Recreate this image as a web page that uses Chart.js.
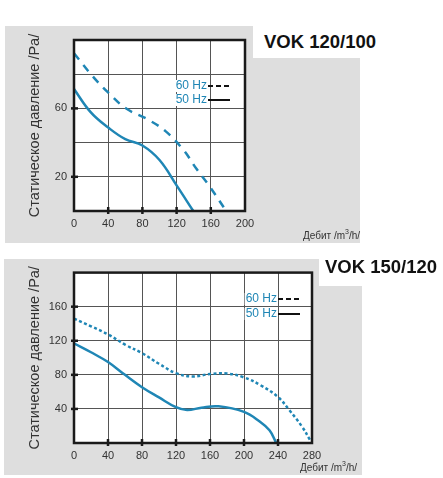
<!DOCTYPE html>
<html>
<head>
<meta charset="utf-8">
<script src="https://cdn.jsdelivr.net/npm/chart.js@4.4.1/dist/chart.umd.min.js"></script>
<style>
  html, body { margin:0; padding:0; background:#fff; width:443px; height:478px; overflow:hidden; }
  body { position:relative; font-family:'Liberation Sans', Arial, sans-serif; }
  .panel { position:absolute; background:#dedede; }
  .tbox { position:absolute; background:#fff; }
  .title { position:absolute; font-weight:bold; font-size:18.5px; color:#111; white-space:nowrap; }
  .xt { position:absolute; font-size:10px; color:#333; white-space:nowrap; }
  .xt sup { font-size:7px; vertical-align:5px; line-height:0; }
  canvas { position:absolute; }
</style>
</head>
<body>
<div class="panel" style="left:5px;top:26px;width:355px;height:217px;"></div>
<div class="tbox" style="left:253px;top:26px;width:132px;height:32px;"></div>
<div class="title" style="left:264px;top:31px;">VOK 120/100</div>
<canvas id="c1" width="355" height="217" style="left:5px;top:26px;width:355px;height:217px;"></canvas>
<div class="xt" style="left:303px;top:230px;">Дебит /m<sup>3</sup>/h/</div>

<div class="panel" style="left:4px;top:259px;width:358px;height:216px;"></div>
<div class="tbox" style="left:319px;top:259px;width:124px;height:27px;"></div>
<div class="title" style="left:325px;top:256px;">VOK 150/120</div>
<canvas id="c2" width="358" height="216" style="left:4px;top:259px;width:358px;height:216px;"></canvas>
<div class="xt" style="left:300px;top:462px;">Дебит /m<sup>3</sup>/h/</div>

<script>
// ---- Chart 1: VOK 120/100 ----
const top_x60 = [0, 22, 41, 61, 85, 107, 128, 143, 159, 178];
const top_y60 = [92.2, 78.7, 68.8, 59.9, 53.9, 46.7, 35.7, 24.8, 14.1, 0];
const top_x50 = [0, 20, 40, 60, 80, 100, 120, 139.5];
const top_y50 = [71.3, 57.5, 48.8, 42, 38.3, 29.8, 15, 0];
const top_yLabels = [20, 60];
const top_xTickMarks = [40, 80, 120, 160];

// ---- Chart 2: VOK 150/120 ----
const bot_x60 = [0, 20, 40, 60, 80, 100, 120, 140, 160, 180, 200, 220, 240, 253, 268, 278];
const bot_y60 = [146, 137, 127.5, 115.5, 105.5, 93, 82, 78, 81, 81.5, 77, 67.5, 54, 39, 19.6, 3];
const bot_x50 = [0, 20, 40, 60, 80, 100, 120, 133, 150, 170, 200, 218, 230, 238];
const bot_y50 = [117, 106.5, 95, 80, 65.5, 53.5, 42, 38.6, 41.5, 43, 36.5, 25.5, 14.9, 0];
const bot_yLabels = [40, 80, 120, 160];
const bot_xTickMarks = [40, 80, 120, 160, 200, 240];

const seriesLabels = ['60 Hz', '50 Hz'];
const yTitle = 'Статическое давление /Pa/';

const BLUE = '#1f86b5';
Chart.defaults.font.family = "'Liberation Sans', Arial, sans-serif";

const toPts = (xs, ys) => xs.map((x, i) => ({x, y: ys[i]}));

const frame = {
  id: 'frame',
  beforeDraw(chart) {
    const {ctx, chartArea: a} = chart;
    ctx.save();
    ctx.fillStyle = '#fff';
    ctx.fillRect(a.left, a.top, a.width, a.height);
    ctx.restore();
  },
  afterDraw(chart, args, o) {
    const {ctx, chartArea: a, scales: {x, y}} = chart;
    ctx.save();
    ctx.strokeStyle = '#1a1a1a';
    ctx.lineWidth = 2.5;
    ctx.strokeRect(a.left, a.top, a.width, a.height);
    o.xTicks.forEach(v => {
      const px = x.getPixelForValue(v);
      ctx.beginPath(); ctx.moveTo(px, a.bottom - 4); ctx.lineTo(px, a.bottom + 3); ctx.stroke();
    });
    o.yTicks.forEach(v => {
      const py = y.getPixelForValue(v);
      ctx.beginPath(); ctx.moveTo(a.left - 3, py); ctx.lineTo(a.left + 4, py); ctx.stroke();
    });
    // legend: text then line sample
    ctx.font = "12px 'Liberation Sans', Arial, sans-serif";
    ctx.textAlign = 'right';
    ctx.textBaseline = 'middle';
    chart.data.datasets.forEach((ds, i) => {
      const ly = o.legendY + i * o.legendGap;
      const w = ctx.measureText(ds.label).width;
      ctx.fillStyle = '#fff';
      ctx.fillRect(o.legendX - w - 1, ly - 6, w + 2, 12);
      ctx.fillStyle = BLUE;
      ctx.fillText(ds.label, o.legendX, ly);
      ctx.strokeStyle = '#111';
      ctx.lineWidth = 2;
      ctx.setLineDash(ds.borderDash && ds.borderDash.length ? [5, 3] : []);
      ctx.beginPath(); ctx.moveTo(o.legendX + 1, ly); ctx.lineTo(o.legendX + 23, ly); ctx.stroke();
      ctx.setLineDash([]);
    });
    ctx.restore();
  }
};

function makeChart(id, cfg) {
  return new Chart(document.getElementById(id), {
    type: 'line',
    data: {
      datasets: [
        { label: seriesLabels[0], data: toPts(cfg.x60, cfg.y60), borderColor: BLUE, borderWidth: 2.5,
          borderDash: cfg.dash, pointRadius: 0, tension: 0.4, fill: false },
        { label: seriesLabels[1], data: toPts(cfg.x50, cfg.y50), borderColor: BLUE, borderWidth: 2.5,
          pointRadius: 0, tension: 0.4, fill: false }
      ]
    },
    options: {
      responsive: false,
      animation: false,
      events: [],
      layout: { padding: { left: 0, top: cfg.padTop, right: cfg.padRight, bottom: 0 } },
      plugins: {
        legend: { display: false },
        tooltip: { enabled: false },
        frame: { xTicks: cfg.xTickMarks, yTicks: cfg.yLabels, legendX: cfg.legendX, legendY: cfg.legendY, legendGap: cfg.legendGap }
      },
      scales: {
        x: {
          type: 'linear', min: 0, max: cfg.xMax,
          border: { display: false },
          grid: { color: '#555', lineWidth: 1, drawTicks: false },
          ticks: { stepSize: 40, color: '#333', font: { size: 11 }, padding: 6, autoSkip: false, maxRotation: 0 },
          afterFit(s) { s.height = cfg.xAxisH; }
        },
        y: {
          type: 'linear', min: 0, max: cfg.yMax,
          border: { display: false },
          grid: { color: '#555', lineWidth: 1, drawTicks: false },
          ticks: { stepSize: cfg.yStep, color: '#333', font: { size: 11 }, padding: 7,
                   callback: v => cfg.yLabels.includes(v) ? String(v) : '' },
          title: { display: true, text: yTitle, color: '#333', font: { size: 14.5 }, padding: { top: cfg.titlePad, bottom: 0 } },
          afterFit(s) { s.width = cfg.yAxisW; }
        }
      }
    },
    plugins: [frame]
  });
}

makeChart('c1', {
  x60: top_x60, y60: top_y60, x50: top_x50, y50: top_y50, dash: [8, 7],
  xMax: 200, yMax: 100, yStep: 20, yLabels: top_yLabels, xTickMarks: top_xTickMarks,
  padTop: 14, padRight: 115, xAxisH: 32, yAxisW: 69, titlePad: 21,
  legendX: 202, legendY: 60, legendGap: 14
});

makeChart('c2', {
  x60: bot_x60, y60: bot_y60, x50: bot_x50, y50: bot_y50, dash: [3, 2.5],
  xMax: 280, yMax: 200, yStep: 40, yLabels: bot_yLabels, xTickMarks: bot_xTickMarks,
  padTop: 13, padRight: 50, xAxisH: 32, yAxisW: 70, titlePad: 22,
  legendX: 273, legendY: 40, legendGap: 15
});
</script>
</body>
</html>
